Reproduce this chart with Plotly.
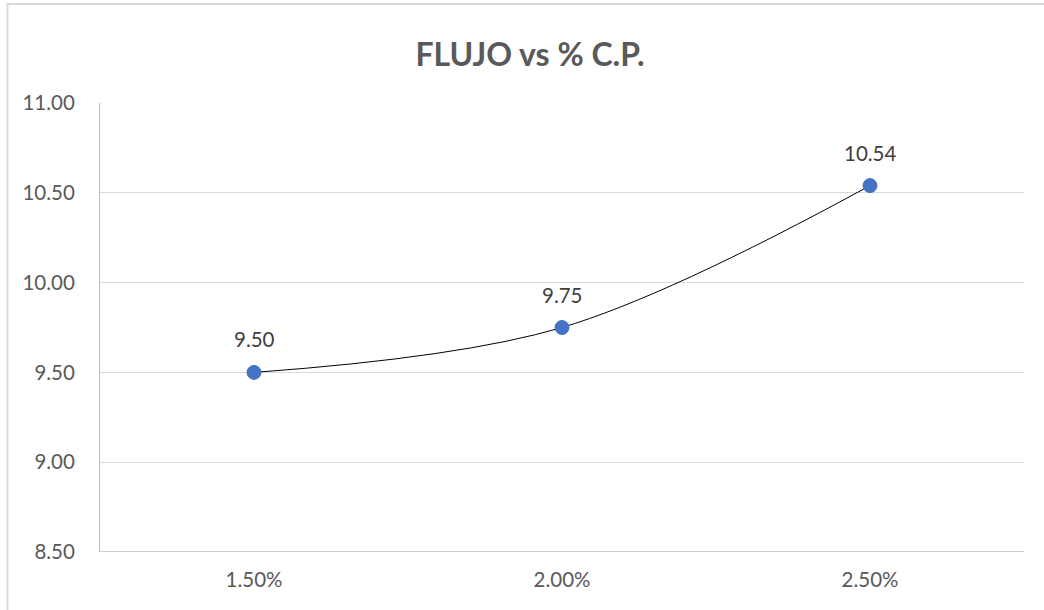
import plotly.graph_objects as go

# Data
categories = ["1.50%", "2.00%", "2.50%"]
flujo = [9.50, 9.75, 10.54]
y_ticks = [8.50, 9.00, 9.50, 10.00, 10.50, 11.00]

FONT = "Lato, 'Open Sans', sans-serif"
TXT = "#595959"

fig = go.Figure()
fig.add_trace(go.Scatter(
    x=categories,
    y=flujo,
    mode="lines+markers",
    line=dict(color="#000000", width=1, shape="spline", smoothing=1.0),
    marker=dict(size=14, color="#4472C4", line=dict(color="#4472C4", width=1)),
    hoverinfo="x+y",
    showlegend=False,
))

# Value labels above each point
for c, v in zip(categories, flujo):
    fig.add_annotation(
        x=c, y=v, text=f"{v:.2f}", showarrow=False,
        yshift=33, font=dict(family=FONT, size=20.5, color="#404040"),
    )

# Outer chart frame
fig.add_shape(
    type="rect", xref="paper", yref="paper",
    x0=-0.1001, x1=1.05, y0=-0.2, y1=1.2205,
    line=dict(color="#d9d9d9", width=2), fillcolor="rgba(0,0,0,0)",
    layer="below",
)

fig.update_layout(
    width=1044, height=610,
    margin=dict(l=100, r=20, t=103, b=58),
    paper_bgcolor="white", plot_bgcolor="white",
    title=dict(
        text="<b>FLUJO vs % C.P.</b>",
        x=530 / 1044, xref="container", xanchor="center",
        y=1 - 55 / 610, yref="container", yanchor="middle",
        font=dict(family=FONT, size=32, color=TXT),
    ),
    xaxis=dict(
        type="category", range=[-0.5, 2.5],
        showgrid=False, zeroline=False, showline=False,
        tickfont=dict(family=FONT, size=20.5, color=TXT),
        ticks="", ticklabelstandoff=13,
    ),
    yaxis=dict(
        range=[8.5, 11.0], tickvals=y_ticks,
        ticktext=[f"{t:.2f}" for t in y_ticks],
        showgrid=True, gridcolor="#d9d9d9", gridwidth=1,
        zeroline=False, showline=True, linecolor="#bfbfbf", linewidth=1,
        tickfont=dict(family=FONT, size=20.5, color=TXT),
        ticks="", ticklabelstandoff=20,
    ),
)

# Bottom boundary line at the axis minimum
fig.add_shape(
    type="line", xref="paper", yref="y", x0=0, x1=1, y0=8.5, y1=8.5,
    line=dict(color="#bfbfbf", width=1.5),
)

fig.write_html("out.html")
